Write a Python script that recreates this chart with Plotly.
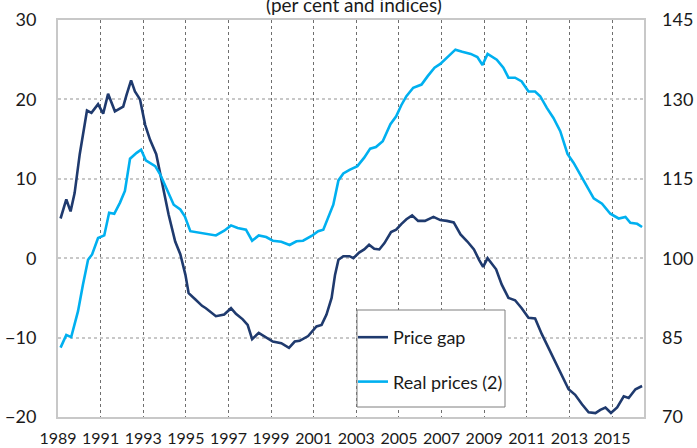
import plotly.graph_objects as go

# Price gap (per cent, left axis)
gap_x = [1989.12, 1989.39, 1989.59, 1989.78, 1990.02, 1990.36, 1990.57, 1990.88, 1991.12, 1991.35,
         1991.67, 1992.06, 1992.22, 1992.43, 1992.61, 1992.85, 1993.09, 1993.32, 1993.61, 1993.87,
         1994.19, 1994.50, 1994.74, 1994.98, 1995.13, 1995.45, 1995.76, 1995.94, 1996.41, 1996.80,
         1997.12, 1997.35, 1997.67, 1997.90, 1998.11, 1998.42, 1998.77, 1999.08, 1999.48, 1999.84,
         2000.11, 2000.34, 2000.74, 2001.13, 2001.37, 2001.60, 2001.84, 2002.00, 2002.16, 2002.39,
         2002.68, 2002.86, 2003.13, 2003.37, 2003.60, 2003.84, 2004.08, 2004.32, 2004.63, 2004.87,
         2005.11, 2005.35, 2005.62, 2005.90, 2006.22, 2006.62, 2006.94, 2007.25, 2007.57, 2007.89,
         2008.21, 2008.52, 2008.76, 2008.95, 2009.16, 2009.40, 2009.56, 2009.82, 2010.14, 2010.45,
         2010.76, 2011.08, 2011.39, 2011.71, 2012.02, 2012.33, 2012.65, 2012.96, 2013.27, 2013.59,
         2013.90, 2014.22, 2014.45, 2014.69, 2014.95, 2015.24, 2015.55, 2015.78, 2016.10, 2016.41]
gap_y = [5.0, 7.4, 5.9, 8.2, 13.1, 18.6, 18.3, 19.4, 18.2, 20.7,
         18.5, 19.1, 20.6, 22.4, 21.0, 20.0, 16.8, 14.9, 13.1, 9.7,
         5.5, 2.1, 0.5, -2.1, -4.4, -5.2, -6.0, -6.3, -7.3, -7.1,
         -6.3, -7.0, -7.7, -8.4, -10.2, -9.4, -10.0, -10.5, -10.7, -11.3,
         -10.5, -10.4, -9.8, -8.6, -8.4, -7.1, -5.0, -2.1, -0.2, 0.25,
         0.25, 0.0, 0.7, 1.1, 1.7, 1.2, 1.1, 1.9, 3.3, 3.6,
         4.3, 4.9, 5.4, 4.7, 4.7, 5.2, 4.8, 4.7, 4.5, 3.0,
         2.1, 1.1, -0.2, -1.1, 0.0, -0.9, -1.4, -3.3, -5.0, -5.3,
         -6.3, -7.5, -7.6, -9.6, -11.3, -13.0, -14.9, -16.5, -17.2, -18.4,
         -19.4, -19.5, -19.1, -18.8, -19.5, -18.8, -17.4, -17.6, -16.5, -16.1]

# Real prices (2) (index, right axis)
real_x = [1989.12, 1989.39, 1989.62, 1989.94, 1990.17, 1990.41, 1990.60, 1990.88, 1991.17, 1991.40,
          1991.64, 1991.91, 1992.14, 1992.38, 1992.69, 1992.90, 1993.12, 1993.56, 1993.80, 1994.11,
          1994.43, 1994.74, 1994.95, 1995.21, 1995.62, 1996.01, 1996.41, 1996.80, 1997.12, 1997.43,
          1997.82, 1998.11, 1998.42, 1998.77, 1999.08, 1999.48, 1999.87, 2000.19, 2000.50, 2000.90,
          2001.21, 2001.45, 2001.68, 2001.92, 2002.16, 2002.39, 2002.68, 2002.81, 2003.05, 2003.37,
          2003.65, 2003.92, 2004.24, 2004.60, 2004.87, 2005.11, 2005.35, 2005.67, 2006.06, 2006.35,
          2006.67, 2006.94, 2007.25, 2007.65, 2007.97, 2008.37, 2008.68, 2008.92, 2009.16, 2009.40,
          2009.59, 2009.90, 2010.14, 2010.45, 2010.76, 2011.08, 2011.39, 2011.63, 2011.94, 2012.25,
          2012.57, 2012.91, 2013.20, 2013.51, 2013.82, 2014.14, 2014.53, 2014.92, 2015.31, 2015.63,
          2015.86, 2016.18, 2016.41]
real_y = [83.1, 85.5, 85.1, 90.0, 95.0, 99.7, 100.7, 103.8, 104.3, 108.6,
          108.4, 110.5, 112.7, 118.8, 119.9, 120.5, 118.5, 117.4, 115.8, 113.0,
          110.1, 109.2, 107.9, 105.1, 104.8, 104.6, 104.3, 105.2, 106.2, 105.7,
          105.4, 103.3, 104.3, 104.0, 103.3, 103.1, 102.5, 103.2, 103.3, 104.2,
          105.1, 105.4, 107.6, 110.1, 114.7, 116.0, 116.7, 116.9, 117.4, 119.0,
          120.7, 121.0, 122.1, 125.3, 126.8, 128.9, 130.6, 132.2, 132.8, 134.4,
          136.0, 136.7, 137.8, 139.4, 139.0, 138.6, 138.0, 136.5, 138.6, 138.0,
          137.5, 136.0, 134.1, 134.1, 133.4, 131.5, 131.5, 130.6, 128.4, 126.5,
          124.0, 119.7, 118.0, 115.8, 113.6, 111.3, 110.3, 108.4, 107.5, 107.8,
          106.7, 106.5, 105.9]

year_ticks = list(range(1989, 2016, 2))
year_labels = [str(y) for y in year_ticks]
left_ticks = [-20, -10, 0, 10, 20, 30]
right_ticks = [70, 85, 100, 115, 130, 145]

NAVY = "#1F3A6E"
LIGHT = "#00B0F0"
FONT = "Lato"
TXT = "#1a1a1a"

# plot area in pixels: x 58..644, y 20..417
PW, PH = 586.0, 397.0

fig = go.Figure()
fig.add_trace(go.Scatter(x=gap_x, y=gap_y, mode="lines", name="Price gap",
                         line=dict(color=NAVY, width=2.6), legendgroup="a"))
fig.add_trace(go.Scatter(x=real_x, y=real_y, mode="lines", name="Real prices (2)",
                         line=dict(color=LIGHT, width=2.6), yaxis="y2", legendgroup="b"))

# legend frame
fig.add_shape(type="rect", xref="paper", yref="paper", layer="above",
              x0=(357 - 58) / PW, x1=(505 - 58) / PW,
              y0=(417 - 407) / PH, y1=(417 - 310) / PH,
              line=dict(color="#7f7f7f", width=1), fillcolor="white")

fig.update_layout(
    width=697, height=448,
    margin=dict(l=58, r=53, t=20, b=31, autoexpand=False),
    paper_bgcolor="white", plot_bgcolor="white",
    font=dict(family=FONT, color=TXT),
    showlegend=True,
    legend=dict(x=(353 - 58) / PW, y=(417 - 319) / PH, xanchor="left", yanchor="top",
                borderwidth=0, bgcolor="rgba(0,0,0,0)",
                font=dict(size=18, family=FONT, color=TXT),
                tracegroupgap=18, traceorder="grouped", itemwidth=30),
    xaxis=dict(range=[1989, 2016.5], tickmode="array", tickvals=year_ticks, ticktext=year_labels,
               showgrid=True, gridcolor="#6f6f6f", griddash="dot", gridwidth=1,
               showline=True, linecolor="#c8c8c8", linewidth=2, mirror=True, automargin=False,
               zeroline=False, ticks="", tickfont=dict(size=16, family=FONT, color=TXT),
               ticklabelstandoff=6),
    yaxis=dict(range=[-20, 30], tickmode="array", tickvals=left_ticks, automargin=False,
               showgrid=True, gridcolor="#c8c8c8", griddash="dot", gridwidth=1.5,
               showline=True, linecolor="#c8c8c8", linewidth=2, mirror=True,
               zeroline=False, ticks="", tickfont=dict(size=18, family=FONT, color=TXT),
               ticklabelstandoff=16),
    yaxis2=dict(range=[70, 145], tickmode="array", tickvals=right_ticks, overlaying="y",
                side="right", showgrid=False, showline=False, zeroline=False, ticks="",
                automargin=False,
                tickfont=dict(size=18, family=FONT, color=TXT), ticklabelstandoff=17),
    annotations=[dict(text="(per cent and indices)", x=0.505, y=1 + 2 / PH, xref="paper",
                      yref="paper", xanchor="center", yanchor="bottom", showarrow=False,
                      font=dict(size=19, family=FONT, color=TXT))],
)

fig.write_html("out.html", config={"displayModeBar": False},
               post_script="document.body.style.margin='0';")
